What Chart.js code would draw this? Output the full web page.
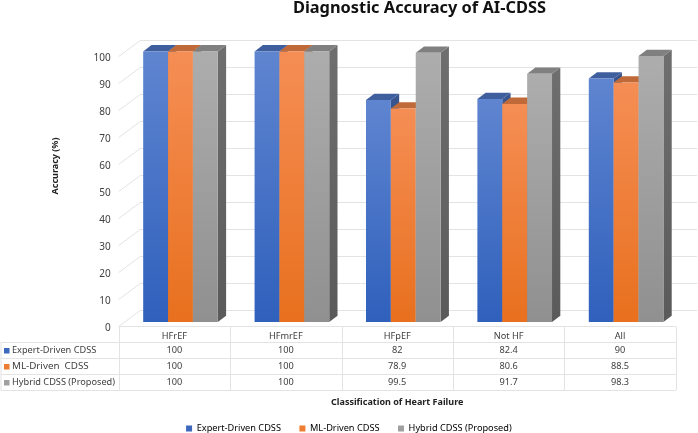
<!DOCTYPE html>
<html><head><meta charset="utf-8">
<style>html,body{margin:0;padding:0;background:#fff}canvas{display:block}#w{width:698px;height:433px;position:relative}</style>
<script src="https://cdn.jsdelivr.net/npm/chart.js@4"></script>
</head><body><div id="w"><canvas id="c" width="698" height="433"></canvas></div>
<script>
const categories = ['HFrEF','HFmrEF','HFpEF','Not HF','All'];
const expertDriven = [100,100,82,82.4,90];
const mlDriven = [100,100,78.9,80.6,88.5];
const hybrid = [100,100,99.5,91.7,98.3];
const seriesNames = ['Expert-Driven CDSS','ML-Driven CDSS','Hybrid CDSS (Proposed)'];
const tableLabels = ['Expert-Driven CDSS','ML-Driven  CDSS','Hybrid CDSS (Proposed)'];
const solid = ['#3C68BE','#ED7D31','#A0A0A0'];
const gradTop = ['#5F85D0','#F58E55','#ADADAD'];
const gradBot = ['#2F60BC','#E8701E','#909090'];
const topFace = ['#3F5E9E','#BF6A38','#808080'];
const sideFace = ['#38558F','#B0602E','#6E6E6E'];
const sideFaceBot = ['#2C4680','#A05020','#5A5A5A'];
const FONT = '"Noto Sans"';
const TXT = '#404040', LINE = '#e3e3e3';
const DX = 8.3, DY = 6.3, WALLX = 21.5, WALLY = 16, BARSHIFTX = 6.1, BARSHIFTY = -4.3;

function barFill(i){
  return ctx => {
    const y = ctx.chart.scales.y;
    if(!y || ctx.parsed == null) return solid[i];
    const g = ctx.chart.ctx.createLinearGradient(0, y.getPixelForValue(ctx.parsed.y), 0, y.getPixelForValue(0));
    g.addColorStop(0, gradTop[i]); g.addColorStop(1, gradBot[i]);
    return g;
  };
}
const poly = (c, pts, fill) => { c.beginPath(); pts.forEach((p,i)=> i?c.lineTo(p[0],p[1]):c.moveTo(p[0],p[1])); c.closePath(); c.fillStyle=fill; c.fill(); };

const scene = {
  id:'scene',
  afterLayout(chart){
    if(chart.titleBlock){
      chart.titleBlock.left += 81.6; chart.titleBlock.right += 81.6;
      chart.titleBlock.top -= 1.5; chart.titleBlock.bottom -= 1.5;
    }
    if(chart.legend){
      chart.legend.top += 10; chart.legend.bottom += 10;
      chart.legend.left += 11; chart.legend.right += 11;
    }
    const s = chart.scales.y, xs = chart.scales.x;
    if(!s._patched){
      s._patched = true;
      const orig = s.drawTitle;
      s.drawTitle = function(){ const b=this.bottom; this.bottom = b-50; orig.call(this); this.bottom=b; };
      const origX = xs.drawTitle;
      xs.drawTitle = function(){ const b=this.bottom; this.bottom = this.top+82; origX.call(this); this.bottom=b; };
      const origL = s.drawLabels;
      s.drawLabels = function(a){ const c=this.ctx; c.save(); c.translate(0,2); origL.call(this,a); c.restore(); };
    }
  },
  beforeDatasetsDraw(chart){
    const c = chart.ctx, ys = chart.scales.y, xs = chart.scales.x;
    c.save(); c.strokeStyle = LINE; c.lineWidth = 1;
    ys.ticks.forEach(t=>{
      const y = Math.round(ys.getPixelForValue(t.value))+.5;
      c.beginPath();
      c.moveTo(xs.left,y); c.lineTo(xs.left+WALLX,y-WALLY); c.lineTo(xs.right+WALLX,y-WALLY);
      c.stroke();
    });
    const rowH = 16, top = Math.round(xs.top)+.5;
    const left = xs.left, right = xs.right, cw = (right-left)/categories.length;
    c.beginPath();
    c.moveTo(left,top); c.lineTo(right,top);
    for(let r=1;r<=4;r++){ c.moveTo(1,top+r*rowH); c.lineTo(right,top+r*rowH); }
    for(let i=0;i<=categories.length;i++){ const x=Math.round(left+i*cw)+.5; c.moveTo(x,top); c.lineTo(x,top+4*rowH); }
    c.moveTo(1,top+rowH); c.lineTo(1,top+4*rowH);
    c.stroke();
    const rows=[expertDriven,mlDriven,hybrid];
    c.textBaseline='middle';
    rows.forEach((vals,r)=>{
      const cy = top+rowH*(r+1)+rowH/2;
      c.fillStyle=solid[r]; c.fillRect(4,cy-2.5,5.5,5.5);
      c.fillStyle=TXT; c.textAlign='left';
      c.font=(r===1?'9.8px ':'9.2px ')+FONT;
      c.fillText(tableLabels[r],12,cy);
      c.textAlign='center';
      c.font='9.2px '+FONT;
      vals.forEach((v,i)=>c.fillText(String(v),left+cw*(i+.5),cy));
    });
    c.restore();
    c.save(); c.translate(BARSHIFTX,BARSHIFTY);
    [0,1,2].forEach(d=>{
      chart.getDatasetMeta(d).data.forEach(el=>{
        const l=el.x-el.width/2, r=el.x+el.width/2, t=el.y, b=el.base;
        const g=c.createLinearGradient(0,t,0,b); g.addColorStop(0,sideFace[d]); g.addColorStop(1,sideFaceBot[d]);
        poly(c,[[r,t],[r+DX,t-DY],[r+DX,b-DY],[r,b]],g);
        poly(c,[[l,t],[r,t],[r+DX,t-DY],[l+DX,t-DY]],topFace[d]);
        el.draw(c);
      });
    });
    c.restore();
    return false;
  }
};

new Chart(document.getElementById('c'),{
  type:'bar',
  data:{labels:categories,datasets:[
    {label:seriesNames[0],data:expertDriven,backgroundColor:barFill(0)},
    {label:seriesNames[1],data:mlDriven,backgroundColor:barFill(1)},
    {label:seriesNames[2],data:hybrid,backgroundColor:barFill(2)}
  ]},
  plugins:[scene],
  options:{
    responsive:false,animation:false,
    layout:{padding:{left:0,right:22.3,top:0,bottom:0}},
    datasets:{bar:{categoryPercentage:.67,barPercentage:1,borderWidth:0}},
    plugins:{
      tooltip:{enabled:false},
      title:{display:true,text:'Diagnostic Accuracy of AI-CDSS',color:'#111',
        font:{family:FONT,size:16.4,weight:'bold'},padding:{top:0,bottom:36}},
      legend:{position:'bottom',labels:{
        color:TXT,font:{family:FONT,size:9.2},boxWidth:6,boxHeight:6,padding:18.5,
        generateLabels:()=>seriesNames.map((n,i)=>({text:n,fillStyle:solid[i],strokeStyle:solid[i],lineWidth:0,datasetIndex:i}))
      }}
    },
    scales:{
      x:{
        grid:{display:false,drawTicks:false},border:{display:false},
        ticks:{color:TXT,font:{family:FONT,size:9.2},padding:5,maxRotation:0},
        title:{display:true,text:'Classification of Heart Failure',color:'#222',font:{family:FONT,size:9,weight:'bold'},padding:{top:0,bottom:0}},
        afterFit(s){s.height=69;}
      },
      y:{
        min:0,max:100,
        grid:{display:false,drawTicks:false},border:{display:false},
        ticks:{stepSize:10,color:TXT,font:{family:FONT,size:10},padding:8},
        title:{display:true,text:'Accuracy (%)',color:'#222',font:{family:FONT,size:9,weight:'bold'},padding:{top:50,bottom:0}},
        afterFit(s){s.width=118.7;}
      }
    }
  }
});
</script></body></html>
